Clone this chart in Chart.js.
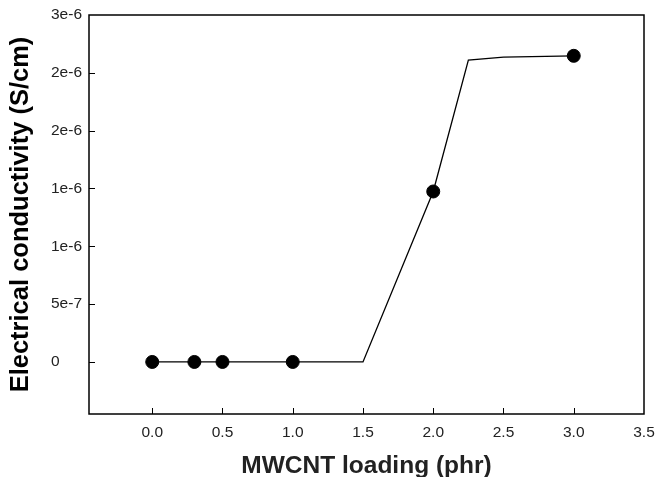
<!DOCTYPE html>
<html>
<head>
<meta charset="utf-8">
<script src="https://cdn.jsdelivr.net/npm/chart.js@4/dist/chart.umd.min.js"></script>
<style>
  html, body { margin: 0; padding: 0; background: #fff; }
  #wrap { width: 655px; height: 477px; }
</style>
</head>
<body>
<div id="wrap"><canvas id="chart"></canvas></div>
<script>
// measured points
const loading = [0, 0.3, 0.5, 1.0, 2.0, 3.0];
const conductivity = [0, 0, 0, 0, 1.474e-6, 2.647e-6];

// the fitted line drawn under the points
const lineX = [0, 0.3, 0.5, 1.0, 1.5, 2.0, 2.25, 2.5, 3.0];
const lineY = [0, 0, 0, 0, 0, 1.474e-6, 2.61e-6, 2.635e-6, 2.647e-6];

const xTicks = [0, 0.5, 1.0, 1.5, 2.0, 2.5, 3.0, 3.5];
const yTicks = [0, 5e-7, 1e-6, 1.5e-6, 2e-6, 2.5e-6, 3e-6];
const yTickLabels = ["0", "5e-7", "1e-6", "1e-6", "2e-6", "2e-6", "3e-6"];

const font = "'Liberation Sans', Arial, Helvetica, sans-serif";

// box around the plot and inward tick marks
const frame = {
  id: "frame",
  afterDraw(chart) {
    const { ctx, chartArea: a, scales } = chart;
    ctx.save();
    ctx.strokeStyle = "#000";
    ctx.lineWidth = 1.5;
    ctx.strokeRect(a.left, a.top, a.right - a.left, a.bottom - a.top);
    ctx.lineWidth = 1;
    ctx.beginPath();
    scales.x.ticks.forEach(t => {
      if (t.value >= 3.5) return;
      const px = Math.round(scales.x.getPixelForValue(t.value)) + 0.5;
      ctx.moveTo(px, a.bottom);
      ctx.lineTo(px, a.bottom - 6);
    });
    scales.y.ticks.forEach(t => {
      if (t.value >= 3e-6) return;
      const py = Math.round(scales.y.getPixelForValue(t.value)) + 0.5;
      ctx.moveTo(a.left, py);
      ctx.lineTo(a.left + 6, py);
    });
    ctx.stroke();
    ctx.restore();
  }
};

new Chart(document.getElementById("chart"), {
  type: "scatter",
  data: {
    datasets: [
      {
        data: lineX.map((x, i) => ({ x, y: lineY[i] })),
        showLine: true,
        borderColor: "#000",
        borderWidth: 1.3,
        pointRadius: 0,
        tension: 0
      },
      {
        data: loading.map((x, i) => ({ x, y: conductivity[i] })),
        showLine: false,
        backgroundColor: "#000",
        borderColor: "#000",
        pointRadius: 6.5,
        pointHoverRadius: 6.5
      }
    ]
  },
  plugins: [frame],
  options: {
    responsive: true,
    maintainAspectRatio: false,
    animation: false,
    layout: { padding: { left: 51, top: 15, right: 0, bottom: 0 } },
    plugins: {
      legend: { display: false },
      tooltip: { enabled: false }
    },
    scales: {
      x: {
        type: "linear",
        min: -0.45,
        max: 3.5,
        afterBuildTicks: s => { s.ticks = xTicks.map(v => ({ value: v })); },
        afterFit: s => { s.height = 63; s.paddingLeft = 0; s.paddingRight = 11; },
        grid: { display: false, drawTicks: false },
        border: { display: false },
        ticks: {
          autoSkip: false,
          maxRotation: 0,
          padding: 9,
          color: "#222",
          font: { family: font, size: 15.5 },
          callback: v => Number(v).toFixed(1)
        },
        title: {
          display: true,
          text: "MWCNT loading (phr)",
          color: "#222",
          font: { family: font, size: 24.5, weight: "bold", lineHeight: 1 },
          padding: { top: 0, bottom: -1 }
        }
      },
      y: {
        type: "linear",
        min: -4.5e-7,
        max: 3e-6,
        afterBuildTicks: s => { s.ticks = yTicks.map(v => ({ value: v })); },
        afterFit: s => { s.width = 38; },
        grid: { display: false, drawTicks: false },
        border: { display: false },
        ticks: {
          autoSkip: false,
          crossAlign: "far",
          color: "#222",
          font: { family: font, size: 15.5 },
          callback: (v, i) => yTickLabels[i]
        },
        title: {
          display: true,
          text: "Electrical conductivity (S/cm)",
          color: "#000",
          font: { family: font, size: 25.5, weight: "bold", lineHeight: 1.2 },
          padding: { top: -45, bottom: 0 }
        }
      }
    }
  }
});
</script>
</body>
</html>
